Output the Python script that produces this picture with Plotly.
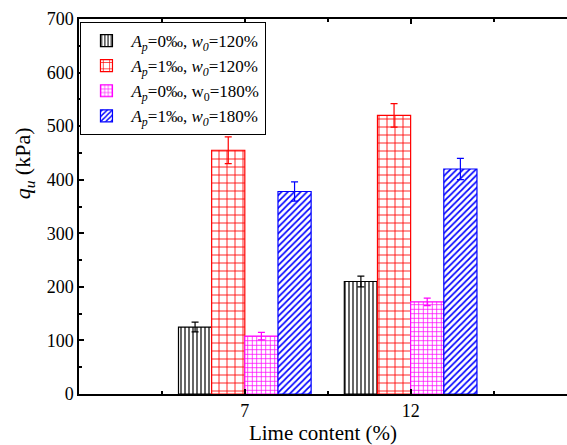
import plotly.graph_objects as go

# Lime content groups and unconfined compressive strength (kPa)
lime_content = ["7", "12"]
series_names = [
    "<i>A</i><sub><i>p</i></sub>=0‰, <i>w</i><sub><i>0</i></sub>=120%",
    "<i>A</i><sub><i>p</i></sub>=1‰, <i>w</i><sub><i>0</i></sub>=120%",
    "<i>A</i><sub><i>p</i></sub>=0‰, w<sub>0</sub>=180%",
    "<i>A</i><sub><i>p</i></sub>=1‰, <i>w</i><sub><i>0</i></sub>=180%",
]
qu_ap0_w120 = [125, 210]
qu_ap1_w120 = [455, 520]
qu_ap0_w180 = [108, 172]
qu_ap1_w180 = [378, 420]
err_ap0_w120 = [9, 10]
err_ap1_w120 = [25, 22]
err_ap0_w180 = [7, 7]
err_ap1_w180 = [18, 20]

values = [qu_ap0_w120, qu_ap1_w120, qu_ap0_w180, qu_ap1_w180]
errors = [err_ap0_w120, err_ap1_w120, err_ap0_w180, err_ap1_w180]
colors = ["#000000", "#ff0000", "#ff00ff", "#0000ff"]
patterns = [("|", 4, 0.3), ("+", 8, 0.2), ("+", 4.5, 0.3), ("/", 4.5, 0.38)]

x_pos = [i + 1 for i in range(len(lime_content))]
FONT = "Liberation Serif"

fig = go.Figure()
for name, vals, errs, col, (shape, size, sol) in zip(series_names, values, errors, colors, patterns):
    fig.add_trace(go.Bar(
        x=x_pos, y=vals, name=name,
        marker=dict(color="white", line=dict(color=col, width=1.2),
                    pattern=dict(shape=shape, fgcolor=col, bgcolor="white",
                                 size=size, solidity=sol, fillmode="replace")),
        error_y=dict(type="data", array=errs, visible=True, color=col,
                     thickness=1.2, width=3.5),
    ))

# y-axis title placed as a rotated annotation
fig.add_annotation(
    text="<i>q<sub>u</sub></i> (kPa)", textangle=-90,
    xref="paper", yref="paper", x=-0.112, y=0.616,
    xanchor="center", yanchor="middle", showarrow=False,
    font=dict(family=FONT, size=22, color="black"),
)

fig.update_layout(
    width=567, height=445,
    margin=dict(l=79, r=0, t=19, b=51),
    paper_bgcolor="white", plot_bgcolor="white",
    barmode="group", bargap=0.2, bargroupgap=0,
    font=dict(family=FONT, size=17, color="black"),
    showlegend=True,
    legend=dict(x=0.003, y=0.992, xanchor="left", yanchor="top",
                bordercolor="black", borderwidth=1, bgcolor="white",
                font=dict(family=FONT, size=17), tracegroupgap=0,
                itemwidth=40),
    xaxis=dict(
        range=[0, 2.943], tickvals=x_pos, ticktext=lime_content,
        showline=True, linecolor="black", linewidth=1.5, mirror="ticks",
        ticks="inside", ticklen=5, tickcolor="black", tickwidth=1.5,
        minor=dict(tickvals=[0.5, 1.5, 2.5], ticks="inside", ticklen=3,
                   tickcolor="black", tickwidth=1.5),
        showgrid=False, zeroline=False,
        title=dict(text="Lime content (%)", font=dict(family=FONT, size=21), standoff=3),
        tickfont=dict(family=FONT, size=18),
    ),
    yaxis=dict(
        range=[0, 700], dtick=100, tick0=0,
        showline=True, linecolor="black", linewidth=1.5, mirror=False,
        ticks="inside", ticklen=5, tickcolor="black", tickwidth=1.5,
        minor=dict(dtick=50, ticks="inside", ticklen=3, tickcolor="black", tickwidth=1.5),
        showgrid=False, zeroline=False,
        tickfont=dict(family=FONT, size=18),
    ),
)

fig.write_html("out.html")
